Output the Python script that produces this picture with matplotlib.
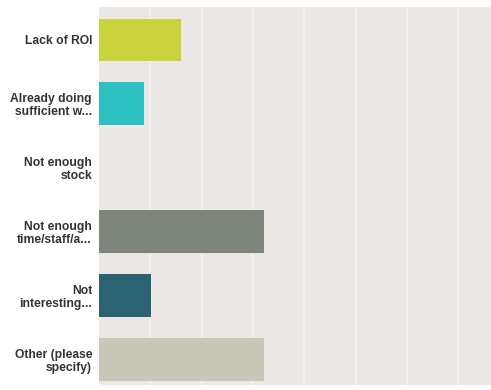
import matplotlib
matplotlib.use("Agg")
import matplotlib.pyplot as plt

categories = ["Lack of ROI", "Already doing\nsufficient w...", "Not enough\nstock",
              "Not enough\ntime/staff/a...", "Not\ninteresting...", "Other (please\nspecify)"]
values = [16.0, 8.8, 0.0, 32.2, 10.2, 32.2]
colors = ["#c9d33c", "#2cc0c0", "#c9d33c", "#7e857a", "#2b6373", "#c8c7b8"]

fig = plt.figure(figsize=(4.91, 3.90), dpi=100)
fig.patch.set_facecolor("white")
ax = fig.add_axes([99/491, 5/390, 392/491, 378/390])
ax.set_facecolor("#ebe8e5")

y = list(range(len(categories)))
ax.barh(y, values, height=0.66, color=colors, zorder=3)
ax.set_ylim(5.4, -0.51)
ax.set_xlim(0, 76.4)
ax.set_xticks([10, 20, 30, 40, 50, 60, 70])
ax.xaxis.grid(True, color="#f6f3f0", linewidth=1.3, zorder=1)
ax.tick_params(axis="x", length=0, labelbottom=False)
ax.tick_params(axis="y", length=0, pad=5)
ax.set_yticks(y)
ax.set_yticklabels(categories, fontfamily="Liberation Sans", fontweight="bold",
                   fontsize=8.7, color="#333333", linespacing=1.1)
for t in ax.get_yticklabels():
    t.set_multialignment("right")
for s in ax.spines.values():
    s.set_visible(False)

fig.savefig("out.png", dpi=100)
